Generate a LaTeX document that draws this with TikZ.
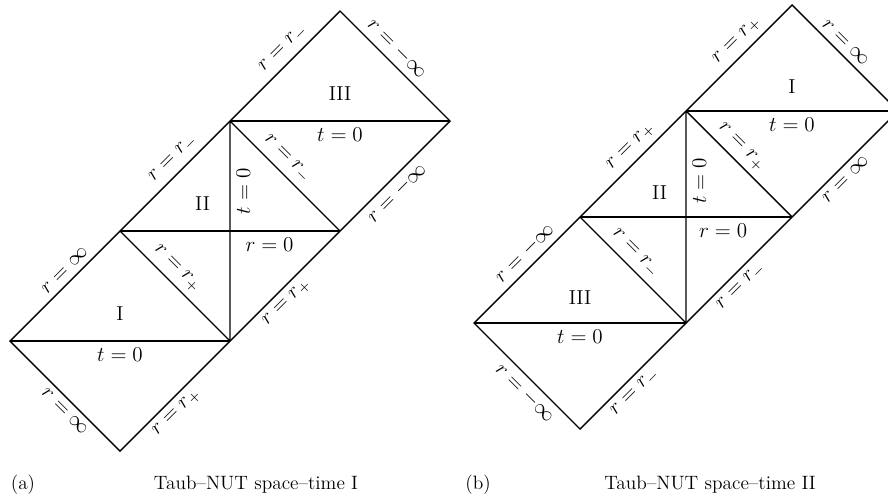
\documentclass[tikz,border=0pt]{standalone}
\begin{document}
\begin{tikzpicture}[
    line width=.8pt,
    every node/.style={font=\fontsize{11.5}{14}\selectfont},
    bordesup/.style={sloped,above},
    bordeinf/.style={sloped,below},
    pie/.style={anchor=base,font=\fontsize{11}{13}\selectfont}]
    \clip (0,0) rectangle (17.76,9.86);

    % (a) Espacio-tiempo de Taub--NUT I.
    \begin{scope}[shift={(0.2cm,3.04cm)}, x={(2.2cm,0cm)}, y={(0cm,2.2cm)}]
        \draw (0,0) -- (1,1) -- (2,2) -- (3,3) -- (4,2) -- (3,1) -- (2,0) -- (1,-1) -- cycle;
        \draw (0,0) -- (2,0) (1,1) -- (3,1) (2,2) -- (4,2);
        \draw (2,0) -- (2,2) (1,1) -- (2,0) (2,2) -- (3,1);

        % Bordes exteriores.
        \path (0,0) -- node[bordesup,pos=.57] {$r=\infty$} (1,1)
            -- node[bordesup,pos=.57] {$r=r_-$} (2,2)
            -- node[bordesup,pos=.57] {$r=r_-$} (3,3)
            -- node[bordesup,pos=.43] {$r=-\infty$} (4,2);
        \path (0,0) -- node[bordeinf,pos=.57] {$r=\infty$} (1,-1)
            -- node[bordeinf,pos=.43] {$r=r_+$} (2,0)
            -- node[bordeinf,pos=.43] {$r=r_+$} (3,1)
            -- node[bordeinf,pos=.43] {$r=-\infty$} (4,2);

        % Lineas interiores.
        \path (1,1) -- node[bordesup,pos=.43] {$r=r_+$} (2,0);
        \path (2,2) -- node[bordesup,pos=.43] {$r=r_-$} (3,1);
        \path (2,0) -- node[bordeinf,pos=.68] {$t=0$} (2,2);
        \node[below] at (1,0) {$t=0$};
        \node[below] at (2.36,1) {$r=0$};
        \node[below] at (3,2) {$t=0$};

        % Regiones.
        \node at (1,.25) {I};
        \node at (1.75,1.25) {II};
        \node at (3,2.25) {III};
    \end{scope}

    % (b) Espacio-tiempo de Taub--NUT II.
    \begin{scope}[shift={(9.48cm,3.40cm)}, x={(2.12cm,0cm)}, y={(0cm,2.12cm)}]
        \draw (0,0) -- (1,1) -- (2,2) -- (3,3) -- (4,2) -- (3,1) -- (2,0) -- (1,-1) -- cycle;
        \draw (0,0) -- (2,0) (1,1) -- (3,1) (2,2) -- (4,2);
        \draw (2,0) -- (2,2) (1,1) -- (2,0) (2,2) -- (3,1);

        % Bordes exteriores.
        \path (0,0) -- node[bordesup,pos=.57] {$r=-\infty$} (1,1)
            -- node[bordesup,pos=.57] {$r=r_+$} (2,2)
            -- node[bordesup,pos=.57] {$r=r_+$} (3,3)
            -- node[bordesup,pos=.43] {$r=\infty$} (4,2);
        \path (0,0) -- node[bordeinf,pos=.57] {$r=-\infty$} (1,-1)
            -- node[bordeinf,pos=.43] {$r=r_-$} (2,0)
            -- node[bordeinf,pos=.43] {$r=r_-$} (3,1)
            -- node[bordeinf,pos=.43] {$r=\infty$} (4,2);

        % Lineas interiores.
        \path (1,1) -- node[bordesup,pos=.43] {$r=r_-$} (2,0);
        \path (2,2) -- node[bordesup,pos=.43] {$r=r_+$} (3,1);
        \path (2,0) -- node[bordeinf,pos=.67] {$t=0$} (2,2);
        \node[below] at (1,0) {$t=0$};
        \node[below] at (2.35,1) {$r=0$};
        \node[below] at (3,2) {$t=0$};

        % Regiones.
        \node at (3,2.23) {I};
        \node at (1.75,1.23) {II};
        \node at (1,.24) {III};
    \end{scope}

    % Pies de figura.
    \node[pie] at (0.46,0.08) {(a)};
    \node[pie] at (5.12,0.08) {Taub--NUT space--time I};
    \node[pie] at (9.56,0.08) {(b)};
    \node[pie] at (14.2,0.08) {Taub--NUT space--time II};
\end{tikzpicture}
\end{document}
